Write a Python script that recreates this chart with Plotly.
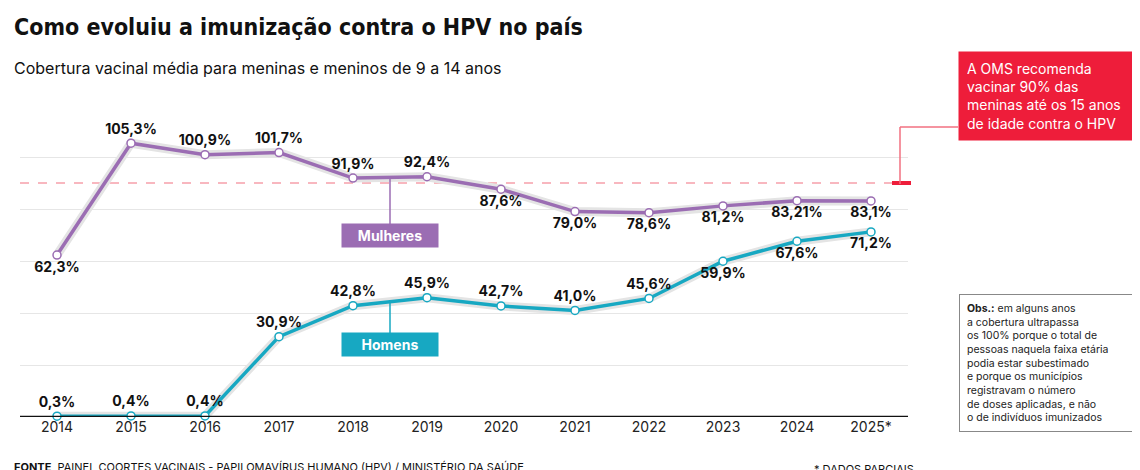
import plotly.graph_objects as go

anos = [2014, 2015, 2016, 2017, 2018, 2019, 2020, 2021, 2022, 2023, 2024, 2025]
anos_ticks = ['2014', '2015', '2016', '2017', '2018', '2019', '2020', '2021', '2022', '2023', '2024', '2025*']
mulheres = [62.3, 105.3, 100.9, 101.7, 91.9, 92.4, 87.6, 79.0, 78.6, 81.2, 83.21, 83.1]
mulheres_txt = ['62,3%', '105,3%', '100,9%', '101,7%', '91,9%', '92,4%', '87,6%', '79,0%', '78,6%', '81,2%', '83,21%', '83,1%']
mulheres_pos = ['bottom center'] + ['top center'] * 5 + ['bottom center'] * 6
homens = [0.3, 0.4, 0.4, 30.9, 42.8, 45.9, 42.7, 41.0, 45.6, 59.9, 67.6, 71.2]
homens_txt = ['0,3%', '0,4%', '0,4%', '30,9%', '42,8%', '45,9%', '42,7%', '41,0%', '45,6%', '59,9%', '67,6%', '71,2%']
homens_pos = ['top center'] * 9 + ['bottom center'] * 3
meta = 90

roxo = '#9b6db3'
azul = '#17a8c2'
vermelho = '#ee1d3a'
fonte = 'Inter'

# área do gráfico em pixels
L, R, T, B = 12, 900, 97, 409


def px(x):
    return (x - L) / (R - L)


def py(y):
    return (B - y) / (B - T)


fig = go.Figure()

# meta da OMS
fig.add_trace(go.Scatter(x=[2013.5, 2025.5], y=[meta, meta], mode='lines',
                         line=dict(color='#f27080', width=1.2, dash='dash'), hoverinfo='skip'))

for ys, txt, pos, cor in [(mulheres, mulheres_txt, mulheres_pos, roxo),
                          (homens, homens_txt, homens_pos, azul)]:
    # halo cinza
    fig.add_trace(go.Scatter(x=anos, y=ys, mode='lines',
                             line=dict(color='#e4e4e4', width=9), hoverinfo='skip'))
    fig.add_trace(go.Scatter(x=anos, y=ys, mode='lines+markers+text',
                             text=['<b>' + t + '</b>' for t in txt],
                             textposition=pos, cliponaxis=False,
                             textfont=dict(family=fonte, size=14, color='#111'),
                             line=dict(color=cor, width=3.5),
                             marker=dict(size=8, color='white', line=dict(color=cor, width=1.5))))

fig.update_layout(
    width=1140, height=470, showlegend=False,
    paper_bgcolor='white', plot_bgcolor='white',
    margin=dict(l=L, r=1140 - R, t=T, b=470 - B),
    xaxis=dict(range=[2013.5, 2025.5], tickvals=anos, ticktext=anos_ticks,
               showgrid=False, zeroline=False, showline=False, ticks='',
               tickfont=dict(family=fonte, size=14, color='#222')),
    yaxis=dict(range=[0, 120], dtick=20, showticklabels=False,
               gridcolor='#e6e6e6', zeroline=False),
    font=dict(family=fonte),
)

shapes = [
    dict(type='line', xref='paper', yref='y', x0=0, x1=1, y0=0, y1=0,
         line=dict(color='#111', width=2.5)),
    dict(type='line', xref='x', yref='y', x0=2018.5, x1=2018.5, y0=91.5, y1=72,
         line=dict(color=roxo, width=1.5)),
    dict(type='line', xref='x', yref='y', x0=2018.5, x1=2018.5, y0=45, y1=28,
         line=dict(color=azul, width=1.5)),
    dict(type='line', xref='paper', yref='y', x0=px(884), x1=px(903), y0=meta, y1=meta,
         line=dict(color=vermelho, width=4)),
    dict(type='line', xref='paper', yref='paper', x0=px(892), x1=px(892), y0=py(176), y1=py(119),
         line=dict(color='#f27080', width=1.5)),
    dict(type='line', xref='paper', yref='paper', x0=px(892), x1=px(950), y0=py(119), y1=py(119),
         line=dict(color='#f27080', width=1.5)),
]
fig.update_layout(shapes=shapes)

ann = [
    dict(x=px(4), y=py(4), xanchor='left', yanchor='top',
         text='<b>Como evoluiu a imunização contra o HPV no país</b>',
         font=dict(family='DejaVu Sans Condensed', size=23, color='#111')),
    dict(x=px(4), y=py(48), xanchor='left', yanchor='top',
         text='Cobertura vacinal média para meninas e meninos de 9 a 14 anos',
         font=dict(family=fonte, size=16, color='#111')),
    dict(x=2018.5, y=70, xref='x', yref='y', text='<b>Mulheres</b>',
         bgcolor=roxo, font=dict(family=fonte, size=14, color='white'), borderpad=3, width=90),
    dict(x=2018.5, y=28, xref='x', yref='y', text='<b>Homens</b>',
         bgcolor=azul, font=dict(family=fonte, size=14, color='white'), borderpad=3, width=90),
    dict(x=px(950), y=py(43), xanchor='left', yanchor='top', align='left',
         bgcolor=vermelho, borderpad=8, width=160,
         text='A OMS recomenda<br>vacinar 90% das<br>meninas até os 15 anos<br>de idade contra o HPV',
         font=dict(family=fonte, size=14, color='white')),
    dict(x=px(951), y=py(286), xanchor='left', yanchor='top', align='left',
         bordercolor='#888', borderwidth=1, borderpad=7, width=162,
         text='<b>Obs.:</b> em alguns anos<br>a cobertura ultrapassa<br>os 100% porque o total de<br>'
              'pessoas naquela faixa etária<br>podia estar subestimado<br>e porque os municípios<br>'
              'registravam o número<br>de doses aplicadas, e não<br>o de indivíduos imunizados',
         font=dict(family=fonte, size=10.5, color='#222')),
    dict(x=px(4), y=py(468), xanchor='left', yanchor='bottom',
         text='<b>FONTE</b>  PAINEL COORTES VACINAIS - PAPILOMAVÍRUS HUMANO (HPV) / MINISTÉRIO DA SAÚDE',
         font=dict(family=fonte, size=11, color='#111')),
    dict(x=px(908), y=py(470), xanchor='right', yanchor='bottom',
         text='* DADOS PARCIAIS', font=dict(family=fonte, size=11, color='#111')),
]
for a in ann:
    a.setdefault('xref', 'paper')
    a.setdefault('yref', 'paper')
    a['showarrow'] = False
fig.update_layout(annotations=ann)

fig.write_html("out.html")
